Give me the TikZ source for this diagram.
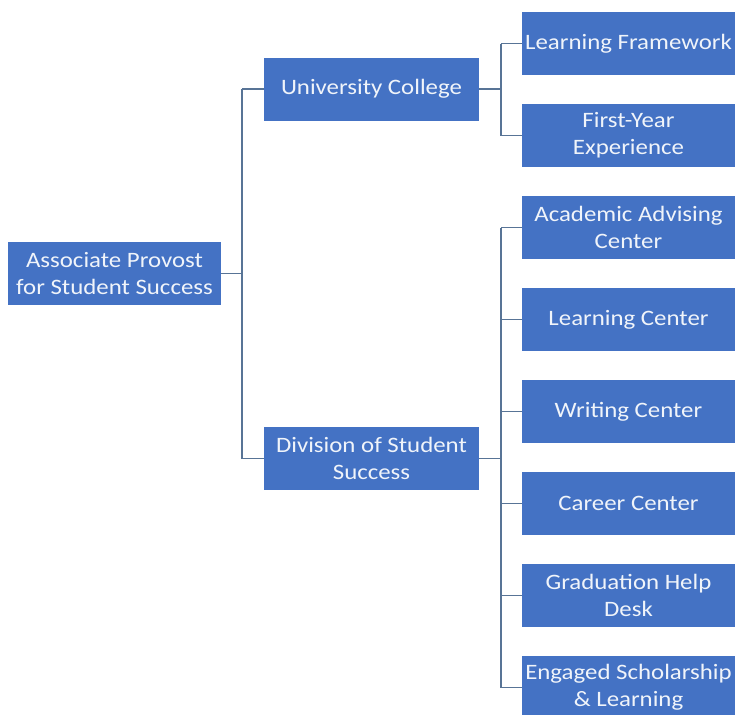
\documentclass[tikz,border=0pt]{standalone}
\usepackage{fontspec}
\setmainfont[FakeStretch=1.13]{Carlito}
\definecolor{boxblue}{RGB}{68,114,196}
\definecolor{boxtext}{RGB}{240,244,250}
\definecolor{linkgray}{RGB}{88,116,150}
\begin{document}
\begin{tikzpicture}[x=1pt,y=-1pt,
  orgbox/.style={fill=boxblue, draw=none, text=boxtext, minimum width=213pt,
    minimum height=63pt, align=center, inner sep=0pt,
    font=\fontsize{22}{27}\selectfont},
  midbox/.style={orgbox, minimum width=215pt},
  link/.style={draw=linkgray, line width=1.2pt}]
\useasboundingbox (0,0) rectangle (737,715);
\clip (0,0) rectangle (737,715);

% top of the tree
\node[orgbox] (root) at (114.5,273.5) {Associate Provost\\for Student Success};

% second level
\node[midbox] (uc)  at (371.5,89)   {University College};
\node[midbox] (dss) at (371.5,458.5) {Division of Student\\Success};

% units under University College
\node[orgbox] (lf)  at (628.5,43.5)  {Learning Framework};
\node[orgbox] (fye) at (628.5,135.5) {First-Year\\Experience};

% units under the Division of Student Success
\node[orgbox] (aac) at (628.5,227.5) {Academic Advising\\Center};
\node[orgbox] (lc)  at (628.5,319.5) {Learning Center};
\node[orgbox] (wc)  at (628.5,411.5) {Writing Center};
\node[orgbox] (cc)  at (628.5,503.5) {Career Center};
\node[orgbox] (ghd) at (628.5,595.5) {Graduation Help\\Desk};
\node[orgbox] (esl) at (628.5,687.5) {Engaged Scholarship\\\& Learning};

% bus lines
\coordinate (busA) at (242,0);
\coordinate (busB) at (501,0);

% root to second level
\draw[link] (root.east) -- (root.east -| busA);
\draw[link] (uc.west -| busA) -- (dss.west -| busA);
\draw[link] (uc.west -| busA) -- (uc.west);
\draw[link] (dss.west -| busA) -- (dss.west);

% University College to its units
\draw[link] (uc.east) -- (uc.east -| busB);
\draw[link] (lf.west -| busB) -- (fye.west -| busB);
\draw[link] (lf.west -| busB) -- (lf.west);
\draw[link] (fye.west -| busB) -- (fye.west);

% Division of Student Success to its units
\draw[link] (dss.east) -- (dss.east -| busB);
\draw[link] (aac.west -| busB) -- (esl.west -| busB);
\foreach \n in {aac,lc,wc,cc,ghd,esl}
  \draw[link] (\n.west -| busB) -- (\n.west);
\end{tikzpicture}
\end{document}
